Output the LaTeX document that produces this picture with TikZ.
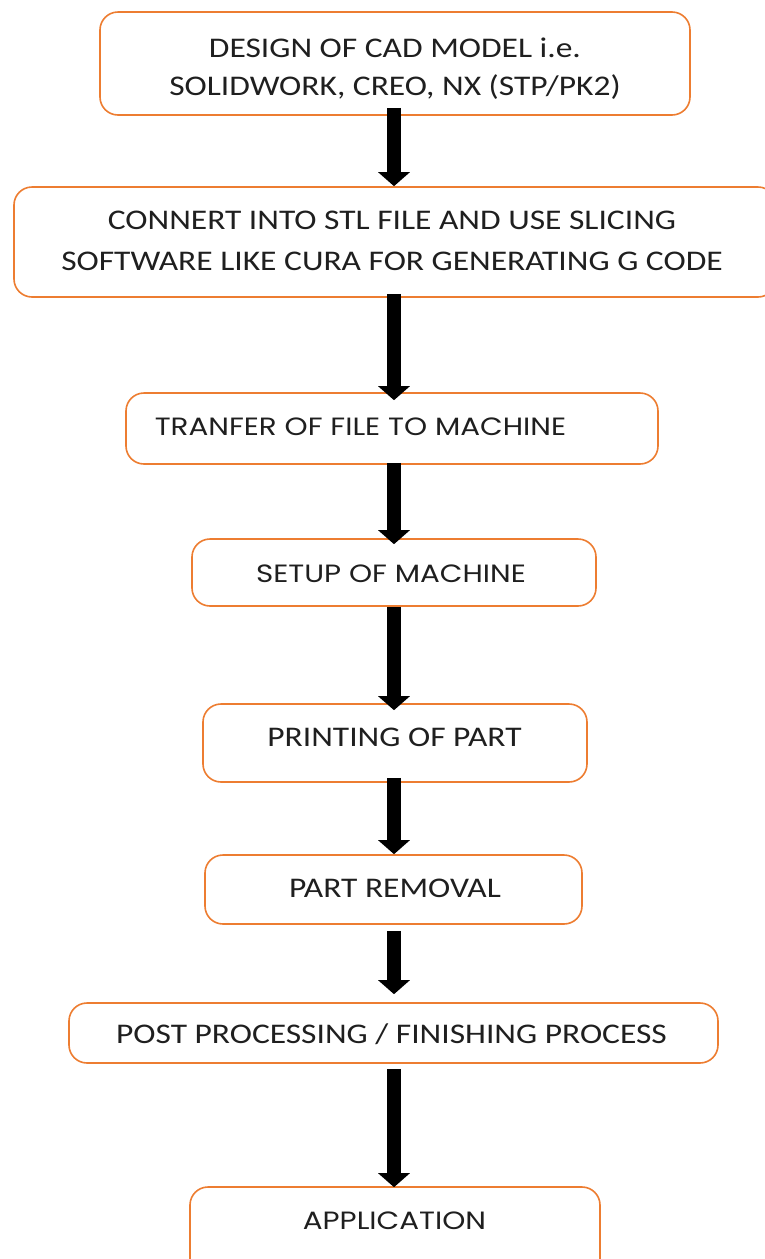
\documentclass[tikz,border=0pt]{standalone}
\usepackage{fontspec}
\setmainfont{Carlito}
\newfontfamily\geofont{Poppins}
\usetikzlibrary{arrows.meta}
\definecolor{boxorange}{RGB}{237,125,49}
\newcommand\sqz[1]{\scalebox{1}[0.85]{#1}}
\tikzset{
  flowbox/.style={draw=boxorange, line width=1.6pt, rounded corners=18pt, fill=white, inner sep=0pt},
  calitext/.style={font=\fontsize{33.5}{38}\selectfont, text=black!88, inner sep=0pt},
  geotext/.style={font=\geofont\fontsize{29.4}{34}\selectfont, text=black!88, inner sep=0pt},
  blockarrow/.style={line width=14pt, -{Triangle[width=31pt,length=14pt]}, black}
}
\begin{document}
\begin{tikzpicture}[x=1pt,y=-1pt]
\useasboundingbox (0,0) rectangle (765,1259);
\clip (0,0) rectangle (765,1259);
\coordinate (ax) at (394,0);
% boxes
\node[flowbox, minimum width=590pt, minimum height=103pt] (b1) at (395,63.5) {};
\node[flowbox, minimum width=762pt, minimum height=110pt] (b2) at (395,242) {};
\node[flowbox, minimum width=532pt, minimum height=71pt] (b3) at (392,428.5) {};
\node[flowbox, minimum width=404pt, minimum height=67pt] (b4) at (394,572.5) {};
\node[flowbox, minimum width=384pt, minimum height=78pt] (b5) at (395,743) {};
\node[flowbox, minimum width=377pt, minimum height=69pt] (b6) at (393.5,889.5) {};
\node[flowbox, minimum width=649pt, minimum height=60pt] (b7) at (393.5,1033) {};
\node[flowbox, minimum width=410pt, minimum height=93pt] (b8) at (395,1233.5) {};
% texts
\node[calitext] (t1a) at (395,48) {\sqz{DESIGN OF CAD MODEL i.e.}};
\node[calitext] (t1b) at (395,87) {\sqz{SOLIDWORK, CREO, NX (STP/PK2)}};
\node[calitext] (t2a) at (392,220) {\sqz{CONNERT INTO STL FILE AND USE SLICING}};
\node[calitext] (t2b) at (392,261) {\sqz{SOFTWARE LIKE CURA FOR GENERATING G CODE}};
\node[geotext] (t3) at (360.5,427) {\sqz{TRANFER OF FILE TO MACHINE}};
\node[geotext] (t4) at (391,574) {\sqz{SETUP OF MACHINE}};
\node[calitext] (t5) at (394.5,737) {\sqz{PRINTING OF PART}};
\node[calitext] (t6) at (395,888) {\sqz{PART REMOVAL}};
\node[calitext] (t7) at (391.5,1034) {\sqz{POST PROCESSING / FINISHING PROCESS}};
\node[geotext] (t8) at (394.5,1221) {\sqz{APPLICATION}};
% arrows
\draw[blockarrow, shorten <=-8pt] (b1.south -| ax) -- (b2.north -| ax);
\draw[blockarrow, shorten <=-4pt, shorten >=-8pt] (b2.south -| ax) -- (b3.north -| ax);
\draw[blockarrow, shorten <=-2pt, shorten >=-6pt] (b3.south -| ax) -- (b4.north -| ax);
\draw[blockarrow, shorten >=-7pt] (b4.south -| ax) -- (b5.north -| ax);
\draw[blockarrow, shorten <=-5pt] (b5.south -| ax) -- (b6.north -| ax);
\draw[blockarrow, shorten <=6pt, shorten >=8pt] (b6.south -| ax) -- (b7.north -| ax);
\draw[blockarrow, shorten <=5pt, shorten >=-1pt] (b7.south -| ax) -- (b8.north -| ax);
\end{tikzpicture}
\end{document}
